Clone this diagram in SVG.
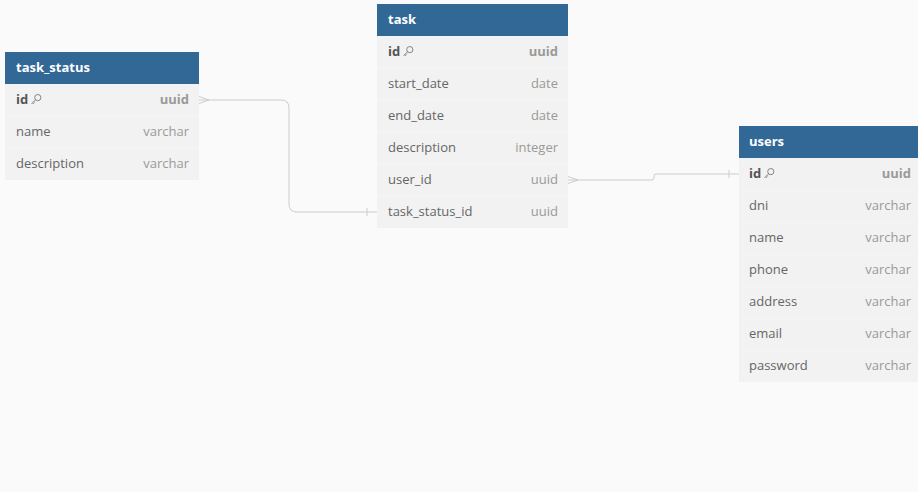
<svg xmlns="http://www.w3.org/2000/svg" width="918" height="492" viewBox="0 0 918 492">
<defs>
<style>
.bg{fill:#fafafa}
.hd{fill:#316896}
.row{fill:#f2f2f2}
.sep{stroke:#f5f5f5;stroke-width:1}
.ht{font-family:"Open Sans","Noto Sans",sans-serif;font-size:13px;font-weight:bold;fill:#ffffff}
.fn{font-family:"Open Sans","Noto Sans",sans-serif;font-size:13px;fill:#666666}
.fk{font-family:"Open Sans","Noto Sans",sans-serif;font-size:13px;font-weight:bold;fill:#555555}
.ty{font-family:"Open Sans","Noto Sans",sans-serif;font-size:13px;fill:#9a9a9a;text-anchor:end}
.tk{font-family:"Open Sans","Noto Sans",sans-serif;font-size:13px;font-weight:bold;fill:#9a9a9a;text-anchor:end}
.con{fill:none;stroke:#cccccc;stroke-width:1}
.key{fill:none;stroke:#777777;stroke-width:0.9}
</style>
<g id="keyicon">
<circle class="key" cx="6.8" cy="3.6" r="3.1"/>
<path class="key" d="M4.6 5.8 L0.6 9.8 M1.6 8.8 L2.8 10 M2.8 7.6 L3.8 8.6"/>
</g>
</defs>
<rect class="bg" x="0" y="0" width="918" height="492"/>

<g id="connectors">
<path class="con" d="M199 100 L281 100 Q289 100 289 108 L289 204 Q289 212 297 212 L377 212"/>
<path class="con" d="M199 96.5 L209 100 L199 103.5"/>
<path class="con" d="M367 208 L367 216"/>
<path class="con" d="M568 180 L652 180 Q654 180 654 178 L654 176 Q654 174 656 174 L739 174"/>
<path class="con" d="M568 176.5 L578 180 L568 183.5"/>
<path class="con" d="M729 170 L729 178"/>
</g>

<g id="task_status">
<rect class="hd" x="5" y="52" width="194" height="32"/>
<text class="ht" x="16" y="72">task_status</text>
<rect class="row" x="5" y="84" width="194" height="96"/>
<line class="sep" x1="5" y1="116" x2="199" y2="116"/>
<line class="sep" x1="5" y1="148" x2="199" y2="148"/>
<text class="fk" x="16" y="104">id</text>
<use href="#keyicon" x="31" y="94"/>
<text class="tk" x="189" y="104">uuid</text>
<text class="fn" x="16" y="136">name</text>
<text class="ty" x="189" y="136">varchar</text>
<text class="fn" x="16" y="168">description</text>
<text class="ty" x="189" y="168">varchar</text>
</g>

<g id="task">
<rect class="hd" x="377" y="4" width="191" height="32"/>
<text class="ht" x="388" y="24">task</text>
<rect class="row" x="377" y="36" width="191" height="192"/>
<line class="sep" x1="377" y1="68" x2="568" y2="68"/>
<line class="sep" x1="377" y1="100" x2="568" y2="100"/>
<line class="sep" x1="377" y1="132" x2="568" y2="132"/>
<line class="sep" x1="377" y1="164" x2="568" y2="164"/>
<line class="sep" x1="377" y1="196" x2="568" y2="196"/>
<text class="fk" x="388" y="56">id</text>
<use href="#keyicon" x="403" y="46"/>
<text class="tk" x="558" y="56">uuid</text>
<text class="fn" x="388" y="88">start_date</text>
<text class="ty" x="558" y="88">date</text>
<text class="fn" x="388" y="120">end_date</text>
<text class="ty" x="558" y="120">date</text>
<text class="fn" x="388" y="152">description</text>
<text class="ty" x="558" y="152">integer</text>
<text class="fn" x="388" y="184">user_id</text>
<text class="ty" x="558" y="184">uuid</text>
<text class="fn" x="388" y="216">task_status_id</text>
<text class="ty" x="558" y="216">uuid</text>
</g>

<g id="users">
<rect class="hd" x="739" y="126" width="182" height="32"/>
<text class="ht" x="749" y="146">users</text>
<rect class="row" x="739" y="158" width="182" height="224"/>
<line class="sep" x1="739" y1="190" x2="921" y2="190"/>
<line class="sep" x1="739" y1="222" x2="921" y2="222"/>
<line class="sep" x1="739" y1="254" x2="921" y2="254"/>
<line class="sep" x1="739" y1="286" x2="921" y2="286"/>
<line class="sep" x1="739" y1="318" x2="921" y2="318"/>
<line class="sep" x1="739" y1="350" x2="921" y2="350"/>
<text class="fk" x="749" y="178">id</text>
<use href="#keyicon" x="764" y="168"/>
<text class="tk" x="911" y="178">uuid</text>
<text class="fn" x="749" y="210">dni</text>
<text class="ty" x="911" y="210">varchar</text>
<text class="fn" x="749" y="242">name</text>
<text class="ty" x="911" y="242">varchar</text>
<text class="fn" x="749" y="274">phone</text>
<text class="ty" x="911" y="274">varchar</text>
<text class="fn" x="749" y="306">address</text>
<text class="ty" x="911" y="306">varchar</text>
<text class="fn" x="749" y="338">email</text>
<text class="ty" x="911" y="338">varchar</text>
<text class="fn" x="749" y="370">password</text>
<text class="ty" x="911" y="370">varchar</text>
</g>
</svg>
